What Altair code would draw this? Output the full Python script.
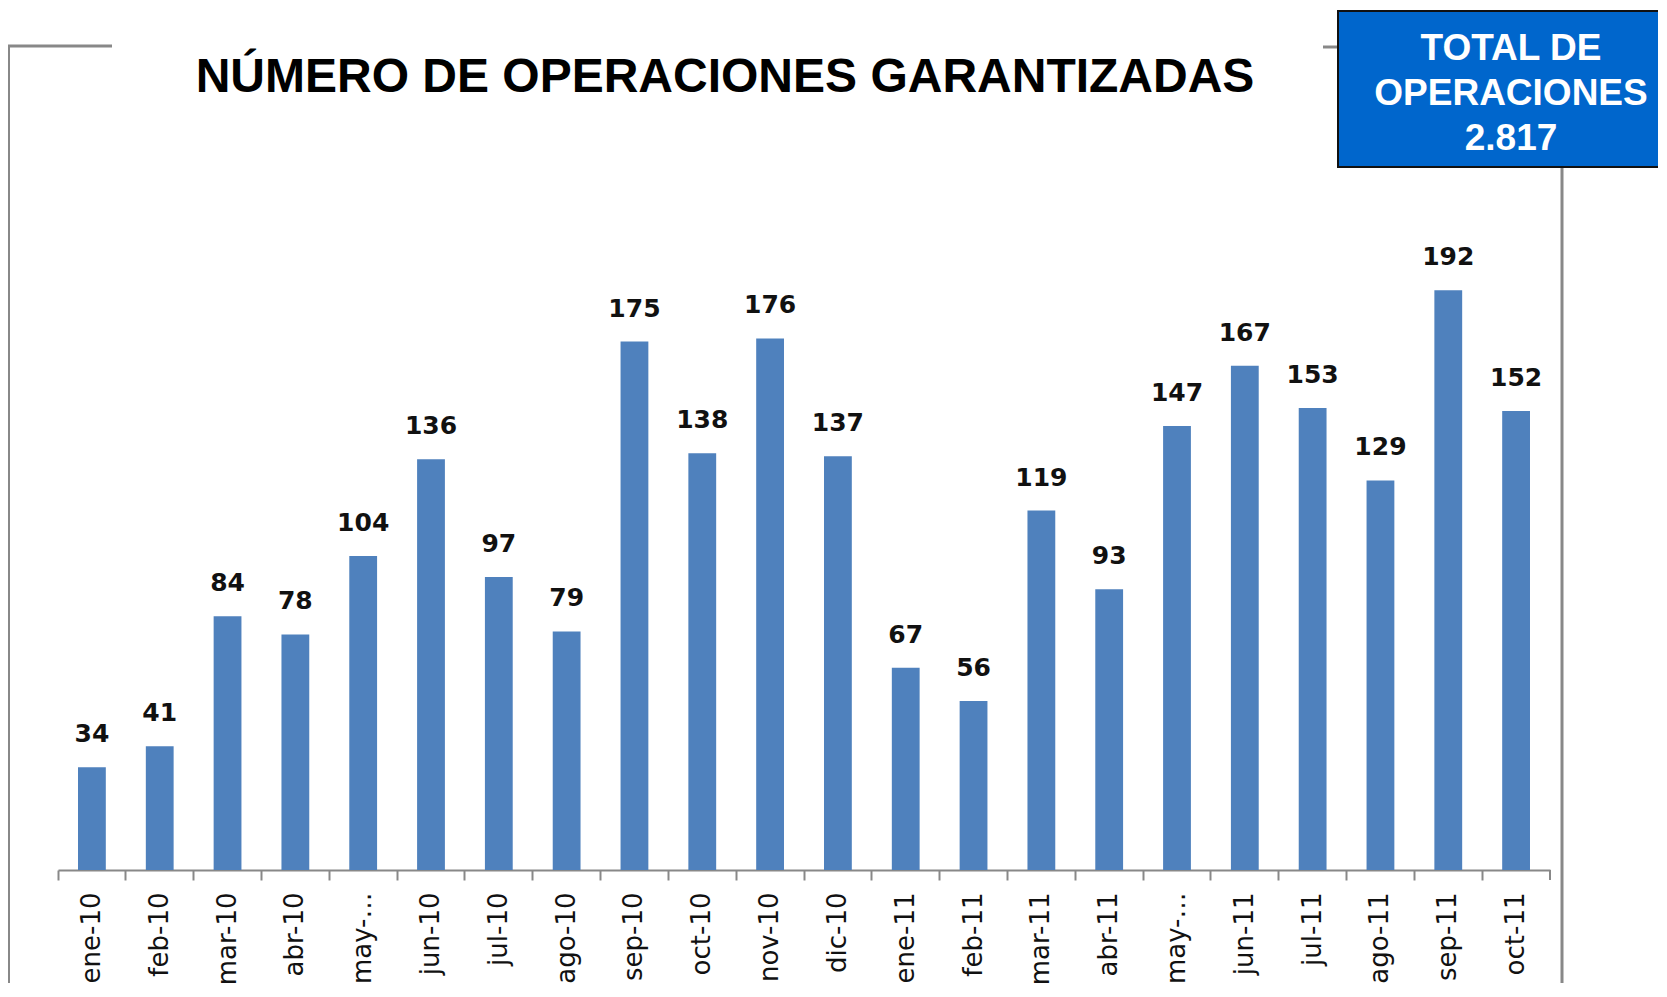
import altair as alt
import pandas as pd

MONTHS = ["ene-10", "feb-10", "mar-10", "abr-10", "may-10", "jun-10", "jul-10",
          "ago-10", "sep-10", "oct-10", "nov-10", "dic-10", "ene-11", "feb-11",
          "mar-11", "abr-11", "may-11", "jun-11", "jul-11", "ago-11", "sep-11",
          "oct-11"]
VALUES = [34, 41, 84, 78, 104, 136, 97, 79, 175, 138, 176, 137, 67, 56, 119,
          93, 147, 167, 153, 129, 192, 152]
TITLE = "NÚMERO DE OPERACIONES GARANTIZADAS"
BOX_LINES = ["TOTAL DE", "OPERACIONES", "2.817"]

df = pd.DataFrame({"mes": MONTHS, "n": VALUES})
one = pd.DataFrame({"k": [0]})

BAR = "#4F81BD"
FRAME = "#888888"
P_IN = 0.59
P_OUT = 0.295
# tick placed at the left boundary of each category cell (in bandwidth units)
TICK_POS = -P_OUT / (1 - P_IN)

W, H = 1492, 604

x_enc = alt.X(
    "mes:N", sort=MONTHS,
    scale=alt.Scale(paddingInner=P_IN, paddingOuter=P_OUT),
    axis=alt.Axis(
        title=None, labelAngle=270, labelFont="DejaVu Sans", labelFontSize=26,
        labelColor="#111111", labelPadding=12, tickSize=10, tickWidth=2,
        tickColor=FRAME, domainColor=FRAME, domainWidth=2,
        bandPosition=TICK_POS, labelLimit=300,
        labelExpr="indexof(datum.label, 'may') == 0 ? 'may-\u2026' : datum.label",
    ),
)
y_enc = alt.Y("n:Q", scale=alt.Scale(domain=[0, 200]), axis=None)

bars = alt.Chart(df).mark_bar(color=BAR).encode(x=x_enc, y=y_enc)
labels = alt.Chart(df).mark_text(
    font="DejaVu Sans", fontWeight="bold", fontSize=25, color="#111111",
    baseline="alphabetic", dy=-25,
).encode(x=alt.X("mes:N", sort=MONTHS), y="n:Q", text="n:Q")

# decorative frame (pixel positions relative to plot area)
def rule(**kw):
    return alt.Chart(one).mark_rule(color=FRAME, strokeWidth=3).encode(**kw)

left_v = rule(x=alt.value(-49.5), y=alt.value(-220), y2=alt.value(740))
top_l = rule(x=alt.value(-51), x2=alt.value(54), y=alt.value(-220))
top_r = rule(x=alt.value(1265), x2=alt.value(1281), y=alt.value(-219))
right_v = rule(x=alt.value(1504), y=alt.value(-99), y2=alt.value(740))
end_tick = alt.Chart(one).mark_rule(color=FRAME, strokeWidth=2).encode(
    x=alt.value(W), y=alt.value(H), y2=alt.value(H + 10))

box = alt.Chart(one).mark_rect(color="#0066CC").encode(
    x=alt.value(1280), x2=alt.value(1660), y=alt.value(-255), y2=alt.value(-99))
def edge(**kw):
    return alt.Chart(one).mark_rule(color="#111111", strokeWidth=2).encode(**kw)
box_top = edge(x=alt.value(1280), x2=alt.value(1660), y=alt.value(-255))
box_bot = edge(x=alt.value(1280), x2=alt.value(1660), y=alt.value(-99))
box_left = edge(x=alt.value(1280), y=alt.value(-256), y2=alt.value(-98))

box_text = alt.Chart(one).mark_text(
    text=BOX_LINES, font="Liberation Sans", fontWeight="bold", fontSize=37,
    color="white", align="center", baseline="alphabetic", lineHeight=45,
).encode(x=alt.value(1453), y=alt.value(-206))
title = alt.Chart(one).mark_text(
    text=TITLE, font="Liberation Sans", fontWeight="bold", fontSize=48,
    color="black", align="center", baseline="alphabetic",
).encode(x=alt.value(667), y=alt.value(-174))

chart = alt.layer(
    left_v, top_l, top_r, right_v, bars, end_tick, labels,
    box, box_top, box_bot, box_left, box_text, title
).properties(
    width=W, height=H, background="white",
    padding={"left": 50, "top": 258, "right": 108, "bottom": 113},
    autosize=alt.AutoSizeParams(type="none"),
).configure_view(strokeWidth=0)

chart.save("out.html", embed_options={"renderer": "svg", "actions": False})
